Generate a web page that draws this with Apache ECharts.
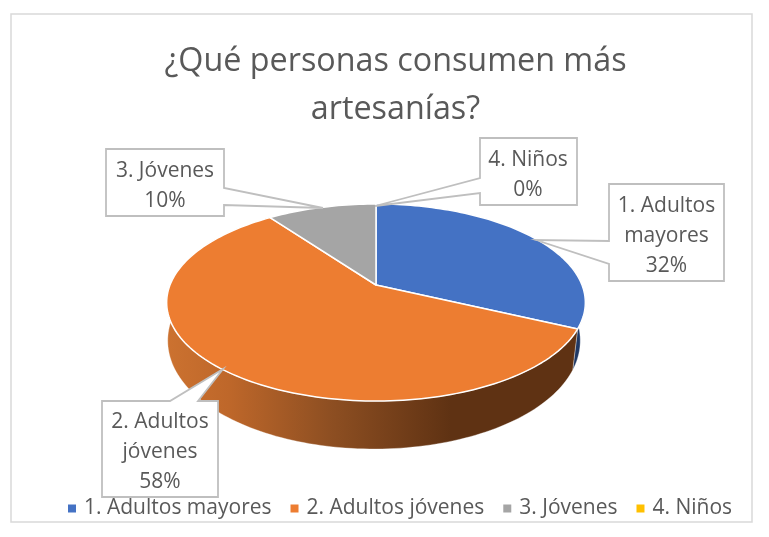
<!DOCTYPE html>
<html>
<head>
<meta charset="utf-8">
<style>
  html, body { margin: 0; padding: 0; background: #fff; }
  #chart { width: 769px; height: 537px; }
</style>
<script src="https://cdn.jsdelivr.net/npm/echarts@6/dist/echarts.min.js"></script>
</head>
<body>
<div id="chart"></div>
<script>
var categories = ['1. Adultos mayores', '2. Adultos jóvenes', '3. Jóvenes', '4. Niños'];
var values = [32, 58, 10, 0];
var colors = ['#4472C4', '#ED7D31', '#A5A5A5', '#FFC000'];
var labelLines = [['1. Adultos', 'mayores'], ['2. Adultos', 'jóvenes'], ['3. Jóvenes'], ['4. Niños']];

// cajas de las etiquetas (outline = caja con la punta de la flecha)
var labelBoxes = [
  { cx: 666.5, top: 191.5, outline: [[609, 184], [724, 184], [724, 281], [609, 281], [609, 264], [536, 240], [609, 241]] },
  { cx: 160, top: 407, outline: [[102, 401], [170, 401], [223, 369], [198, 401], [218, 401], [218, 497], [102, 497]] },
  { cx: 165, top: 156, outline: [[106, 149], [224, 149], [224, 188], [323, 208], [224, 205], [224, 216], [106, 216]] },
  { cx: 528, top: 145, outline: [[480, 138], [577, 138], [577, 205], [480, 205], [480, 193], [375, 206], [480, 178]] }
];

var total = values.reduce(function (a, b) { return a + b; }, 0);

// proyeccion del circulo unidad al plano de la tarta (con perspectiva)
var centerX = 376, persp = -0.1777;
function topPoint(theta) {
  var u = Math.sin(theta), v = -Math.cos(theta);
  var w = 1 + persp * v;
  return [centerX + 206 * u / w, (44.75 * v + 285) / w];
}
function bottomPoint(theta) {
  var u = Math.sin(theta), v = -Math.cos(theta);
  var w = 1 + persp * v;
  return [374 + 203 * u / w, (44.75 * v + 285) / w + 36 + 12 * v];
}
function arc(fn, a0, a1) {
  var pts = [], n = Math.max(2, Math.ceil(Math.abs(a1 - a0) * 40));
  for (var i = 0; i <= n; i++) pts.push(fn(a0 + (a1 - a0) * i / n));
  return pts;
}
function sliceAngles(i) {
  var before = 0;
  for (var k = 0; k < i; k++) before += values[k];
  return [before / total * Math.PI * 2, (before + values[i]) / total * Math.PI * 2];
}

var wallFill = [
  '#1F3864',
  {
    type: 'linear', x: 166, y: 0, x2: 585, y2: 0, global: true,
    colorStops: [
      { offset: 0, color: '#CC7230' },
      { offset: 0.15, color: '#BE672A' },
      { offset: 0.39, color: '#8E4F22' },
      { offset: 0.68, color: '#5F3213' },
      { offset: 1, color: '#5F3213' }
    ]
  },
  '#636363',
  '#997300'
];

function renderSlice(params, api) {
  var i = params.seriesIndex;
  var val = api.value(0);
  var children = [];
  if (val > 0) {
    var a = sliceAngles(i);
    var wall = arc(topPoint, a[0], a[1]).concat(arc(bottomPoint, a[0], a[1]).reverse());
    children.push({
      type: 'polygon', z2: 1,
      shape: { points: wall },
      style: { fill: wallFill[i], stroke: 'rgba(255,255,255,0.55)', lineWidth: 0.6 }
    });
    children.push({
      type: 'polygon', z2: 5,
      shape: { points: [[centerX, 285]].concat(arc(topPoint, a[0], a[1])) },
      style: { fill: colors[i], stroke: '#fff', lineWidth: 1.5, lineJoin: 'round' }
    });
  }
  return { type: 'group', children: children };
}

function renderLabel(params, api) {
  var i = params.seriesIndex - categories.length;
  var box = labelBoxes[i];
  var lines = labelLines[i].concat([Math.round(api.value(0) / total * 100) + '%']);
  return {
    type: 'group',
    children: [
      {
        type: 'polygon', z2: 20,
        shape: { points: box.outline },
        style: { fill: '#fff', stroke: '#BFBFBF', lineWidth: 1.8 }
      },
      {
        type: 'text', z2: 21,
        style: {
          x: box.cx, y: box.top,
          text: lines.join('\n'),
          fill: '#595959',
          font: '21px "Open Sans"',
          lineHeight: 30,
          align: 'center', verticalAlign: 'top'
        }
      }
    ]
  };
}

var series = categories.map(function (name, i) {
  return {
    name: name,
    type: 'custom',
    coordinateSystem: 'none',
    renderItem: renderSlice,
    itemStyle: { color: colors[i] },
    data: [[values[i]]],
    silent: true,
    z: 2
  };
});
categories.forEach(function (name, i) {
  series.push({
    name: name,
    type: 'custom',
    coordinateSystem: 'none',
    renderItem: renderLabel,
    itemStyle: { color: colors[i] },
    data: [[values[i]]],
    silent: true,
    z: 5
  });
});

var chart = echarts.init(document.getElementById('chart'), null, { renderer: 'canvas' });
chart.setOption({
  animation: false,
  backgroundColor: '#fff',
  title: {
    text: '¿Qué personas consumen más\nartesanías?',
    left: 390.5,
    top: 33,
    textAlign: 'center',
    textStyle: {
      fontFamily: 'Open Sans',
      fontWeight: 'normal',
      fontSize: 32.3,
      lineHeight: 48,
      color: '#595959'
    }
  },
  legend: {
    data: categories,
    left: 68,
    top: 498,
    icon: 'rect',
    itemWidth: 8,
    itemHeight: 8,
    itemGap: 19,
    padding: 0,
    z: 8,
    textStyle: {
      fontFamily: 'Open Sans',
      fontSize: 21,
      color: '#595959',
      padding: [0, 0, 0, 3]
    }
  },
  graphic: [
    {
      type: 'rect',
      z: -1,
      shape: { x: 11, y: 14, width: 741, height: 508 },
      style: { fill: '#fff', stroke: '#D9D9D9', lineWidth: 1.5 }
    }
  ],
  series: series
});
</script>
</body>
</html>
